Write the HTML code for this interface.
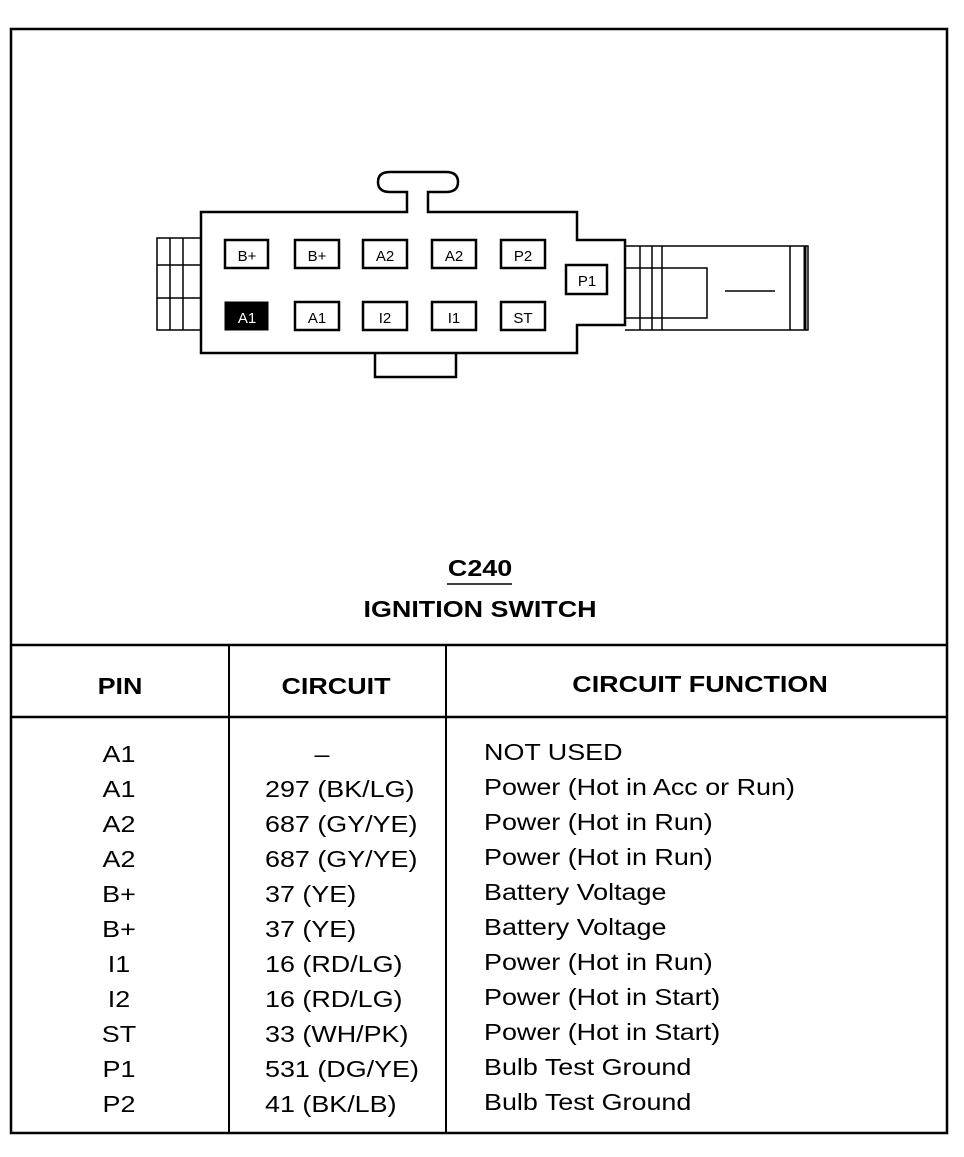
<!DOCTYPE html>
<html><head><style>
body{margin:0;background:#fff;}
svg text{font-family:"Liberation Sans",Arial,sans-serif;fill:#000;}
</style></head><body>
<svg width="964" height="1152" viewBox="0 0 964 1152" xmlns="http://www.w3.org/2000/svg">
<g fill="none" stroke="#000">
<rect x="11" y="29" width="936" height="1104" stroke-width="2.5"/>
<line x1="11" y1="645" x2="947" y2="645" stroke-width="2.5"/>
<line x1="11" y1="717" x2="947" y2="717" stroke-width="2.5"/>
<line x1="229" y1="645" x2="229" y2="1133" stroke-width="2"/>
<line x1="446" y1="645" x2="446" y2="1133" stroke-width="2"/>
<path d="M201,212 H407 V192 H390 Q378,192 378,182 Q378,172 390,172 H446 Q458,172 458,182 Q458,192 446,192 H428 V212 H577 V240 H625 V325 H577 V353 H201 Z" stroke-width="2.5"/>
<path d="M375,353 V377 H456 V353" stroke-width="2.5"/>
<path d="M201,238 H157 V330 H201 M157,265 H201 M157,298 H201 M170,238 V330 M183,238 V330" stroke-width="1.5"/>
<path d="M625,246 H808 V330 H625 M640,246 V330 M652,246 V330 M662,246 V330 M625,268 H707 V318 H625 M790,246 V330 M725,291 H775" stroke-width="1.5"/>
<line x1="805" y1="246" x2="805" y2="330" stroke-width="3"/>
<g stroke-width="2.5">
<rect x="225" y="240" width="43" height="28"/>
<rect x="295" y="240" width="44" height="28"/>
<rect x="363" y="240" width="44" height="28"/>
<rect x="432" y="240" width="44" height="28"/>
<rect x="501" y="240" width="44" height="28"/>
<rect x="295" y="302" width="44" height="28"/>
<rect x="363" y="302" width="44" height="28"/>
<rect x="432" y="302" width="44" height="28"/>
<rect x="501" y="302" width="44" height="28"/>
<rect x="566" y="265" width="41" height="29"/>
</g>
<rect x="225" y="302" width="43" height="28" fill="#000"/>
</g>
<g font-size="15" text-anchor="middle">
<text x="247" y="261">B+</text><text x="317" y="261">B+</text><text x="385" y="261">A2</text><text x="454" y="261">A2</text><text x="523" y="261">P2</text>
<text x="247" y="323" style="fill:#fff">A1</text><text x="317" y="323">A1</text><text x="385" y="323">I2</text><text x="454" y="323">I1</text><text x="523" y="323">ST</text>
<text x="587" y="286">P1</text>
</g>
<g transform="scale(1.17,1)">
<g font-weight="bold" text-anchor="middle" font-size="23">
<text x="410.3" y="576">C240</text>
<text x="410.3" y="617">IGNITION SWITCH</text>
<text x="102.6" y="694">PIN</text>
<text x="287.2" y="694">CIRCUIT</text>
<text x="598.3" y="692">CIRCUIT FUNCTION</text>
</g>
<g font-size="23">
<g text-anchor="middle">
<text x="101.7" y="762">A1</text><text x="101.7" y="797">A1</text><text x="101.7" y="832">A2</text><text x="101.7" y="867">A2</text><text x="101.7" y="902">B+</text><text x="101.7" y="937">B+</text><text x="101.7" y="972">I1</text><text x="101.7" y="1007">I2</text><text x="101.7" y="1042">ST</text><text x="101.7" y="1077">P1</text><text x="101.7" y="1112">P2</text>
<text x="275.2" y="762">–</text>
</g>
<g>
<text x="226.5" y="797">297 (BK/LG)</text><text x="226.5" y="832">687 (GY/YE)</text><text x="226.5" y="867">687 (GY/YE)</text><text x="226.5" y="902">37 (YE)</text><text x="226.5" y="937">37 (YE)</text><text x="226.5" y="972">16 (RD/LG)</text><text x="226.5" y="1007">16 (RD/LG)</text><text x="226.5" y="1042">33 (WH/PK)</text><text x="226.5" y="1077">531 (DG/YE)</text><text x="226.5" y="1112">41 (BK/LB)</text>
<text x="413.7" y="760">NOT USED</text><text x="413.7" y="795">Power (Hot in Acc or Run)</text><text x="413.7" y="830">Power (Hot in Run)</text><text x="413.7" y="865">Power (Hot in Run)</text><text x="413.7" y="900">Battery Voltage</text><text x="413.7" y="935">Battery Voltage</text><text x="413.7" y="970">Power (Hot in Run)</text><text x="413.7" y="1005">Power (Hot in Start)</text><text x="413.7" y="1040">Power (Hot in Start)</text><text x="413.7" y="1075">Bulb Test Ground</text><text x="413.7" y="1110">Bulb Test Ground</text>
</g>
</g>
</g>
<line x1="447" y1="584" x2="512" y2="584" stroke="#000" stroke-width="1.5"/>
</svg>
</body></html>
